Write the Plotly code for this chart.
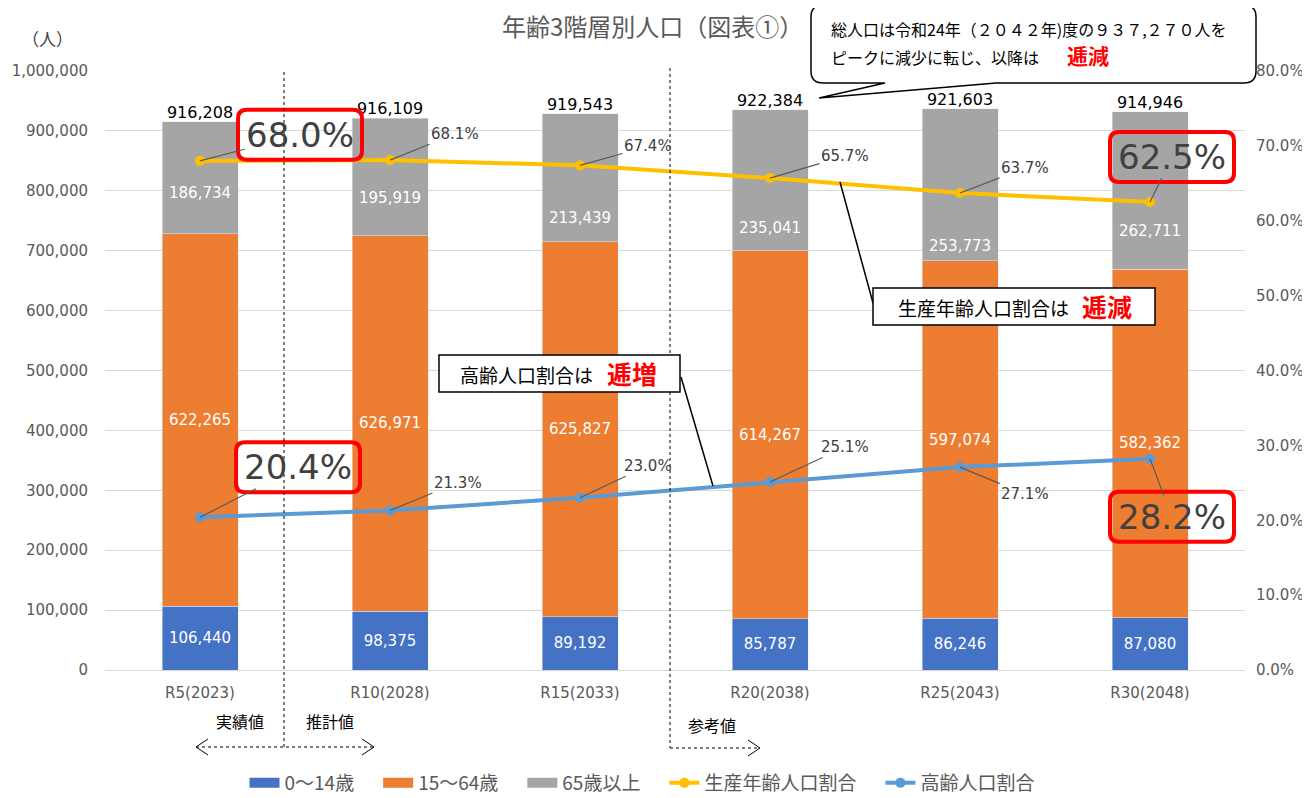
import plotly.graph_objects as go

# ---------------- data ----------------
categories = ["R5(2023)", "R10(2028)", "R15(2033)", "R20(2038)", "R25(2043)", "R30(2048)"]
age_0_14 = [106440, 98375, 89192, 85787, 86246, 87080]
age_15_64 = [622265, 626971, 625827, 614267, 597074, 582362]
age_65_plus = [186734, 195919, 213439, 235041, 253773, 262711]
total_labels = [916208, 916109, 919543, 922384, 921603, 914946]
working_ratio = [0.680, 0.681, 0.674, 0.657, 0.637, 0.625]
elderly_ratio = [0.204, 0.213, 0.230, 0.251, 0.271, 0.282]

# ---------------- layout geometry (page pixels of the reference) ----------------
OFF = 8                     # page body margin
PAGE_W, PAGE_H = 1310, 798
W, H = PAGE_W - OFF, PAGE_H - OFF
PLOT_L, PLOT_R, PLOT_T, PLOT_B = 105, 1245, 71, 670   # plot area in page pixels
L = PLOT_L - OFF
T = PLOT_T - OFF
R = W - (PLOT_R - OFF)
B = H - (PLOT_B - OFF)
PW, PH = PLOT_R - PLOT_L, PLOT_B - PLOT_T
Y2MAX = 0.8

FONT = "DejaVu Sans, Noto Sans CJK JP"
JP = "Noto Sans CJK JP"
GRAY_TXT = "#595959"
DARK_TXT = "#404040"
C_BLUE, C_ORANGE, C_GRAY = "#4472C4", "#ED7D31", "#A5A5A5"
C_YELLOW, C_LBLUE = "#FFC000", "#5B9BD5"
GAP = "\u2002\u2002"   # extra spacing between legend entries


def px(x):
    return (x - PLOT_L) / PW


def py(y):
    return (PLOT_B - y) / PH


def cx(i):
    return PLOT_L + (i + 0.5) * PW / len(categories)


def y2px(v):
    return PLOT_B - v / Y2MAX * PH


def rrect_path(x0, y0, x1, y1, r, tail=None):
    p = f"M {px(x0 + r)},{py(y0)} L {px(x1 - r)},{py(y0)} "
    p += f"Q {px(x1)},{py(y0)} {px(x1)},{py(y0 + r)} L {px(x1)},{py(y1 - r)} "
    p += f"Q {px(x1)},{py(y1)} {px(x1 - r)},{py(y1)} "
    if tail:
        (ta, tip, tb) = tail
        p += f"L {px(ta)},{py(y1)} L {px(tip[0])},{py(tip[1])} L {px(tb)},{py(y1)} "
    p += f"L {px(x0 + r)},{py(y1)} Q {px(x0)},{py(y1)} {px(x0)},{py(y1 - r)} "
    p += f"L {px(x0)},{py(y0 + r)} Q {px(x0)},{py(y0)} {px(x0 + r)},{py(y0)} Z"
    return p


def page_text(txt, x, y, size, color="black", xanchor="center", bold=False, family=JP):
    return dict(x=px(x), y=py(y), xref="paper", yref="paper",
                text=f"<b>{txt}</b>" if bold else txt, showarrow=False,
                xanchor=xanchor, yanchor="middle",
                font=dict(size=size, color=color, family=family))


fig = go.Figure()

for vals, name, col in ((age_0_14, "0～14歳", C_BLUE), (age_15_64, "15～64歳", C_ORANGE)):
    fig.add_trace(go.Bar(
        x=categories, y=vals, name=name, marker_color=col, showlegend=False,
        texttemplate="%{y:,}", textposition="inside", insidetextanchor="middle",
        textfont=dict(color="white", size=15), textangle=0, hoverinfo="skip"))
fig.add_trace(go.Bar(
    x=categories, y=age_65_plus, name="65歳以上", marker_color=C_GRAY, showlegend=False,
    textposition="none", hoverinfo="skip"))

stack_tops = [a + b + c for a, b, c in zip(age_0_14, age_15_64, age_65_plus)]
fig.add_trace(go.Scatter(
    x=categories, y=stack_tops, mode="text", text=[f"{v:,}" for v in total_labels],
    textposition="top center", textfont=dict(color="black", size=16),
    showlegend=False, hoverinfo="skip"))

# legend entries for the bar series (wide rectangular swatches as in the original)
for name, col in (("0～14歳", C_BLUE), ("15～64歳", C_ORANGE), ("65歳以上", C_GRAY)):
    fig.add_trace(go.Scatter(x=[None], y=[None], mode="lines", name=name + GAP,
                             line=dict(color=col, width=10), hoverinfo="skip"))

fig.add_trace(go.Scatter(
    x=categories, y=working_ratio, name="生産年齢人口割合" + GAP, yaxis="y2",
    mode="lines+markers", line=dict(color=C_YELLOW, width=4),
    marker=dict(size=10, color=C_YELLOW), hoverinfo="skip"))
fig.add_trace(go.Scatter(
    x=categories, y=elderly_ratio, name="高齢人口割合", yaxis="y2",
    mode="lines+markers", line=dict(color=C_LBLUE, width=4),
    marker=dict(size=10, color=C_LBLUE), hoverinfo="skip"))

annotations = []
shapes = []

# gray segment labels (moved off the line as in the original)
gray_shift = [-15, -21, -40, -48, -61, -41]
for i, c in enumerate(categories):
    mid = age_0_14[i] + age_15_64[i] + age_65_plus[i] / 2
    annotations.append(dict(x=c, y=mid, xref="x", yref="y", text=f"{age_65_plus[i]:,}",
                            showarrow=False, yshift=gray_shift[i],
                            xanchor="center", yanchor="middle",
                            font=dict(color="white", size=15)))

# percentage labels with leader lines
big = {("w", 0), ("w", 5), ("e", 0), ("e", 5)}
w_off = [(100, -26), (65, -26), (68, -19), (75, -22), (65, -25), (22, -45)]
e_off = [(98, -50), (68, -28), (68, -32), (75, -35), (65, 27), (22, 58)]
for key, ratios, offs in (("w", working_ratio, w_off), ("e", elderly_ratio, e_off)):
    for i, c in enumerate(categories):
        ax, ay = offs[i]
        isbig = (key, i) in big
        annotations.append(dict(
            x=c, y=ratios[i], xref="x", yref="y2", text=f"{ratios[i] * 100:.1f}%",
            showarrow=True, arrowhead=0, arrowwidth=1.2, arrowcolor="#595959",
            standoff=0, ax=ax, ay=ay,
            font=dict(size=34 if isbig else 15, color=DARK_TXT)))
        if isbig:
            bx, by = cx(i) + ax, y2px(ratios[i]) + ay
            shapes.append(dict(type="path", xref="paper", yref="paper",
                               path=rrect_path(bx - 62, by - 25, bx + 62, by + 25, 9),
                               line=dict(color="#FF0000", width=4), layer="above"))

# title and axis unit
annotations.append(page_text("年齢3階層別人口（図表①）", 652, 25, 24, GRAY_TXT))
annotations.append(page_text("（人）", 47, 38, 17, DARK_TXT))

# period markers
dash = dict(color="black", width=1, dash="3px,3px")
shapes.append(dict(type="line", xref="paper", yref="paper", x0=px(284), x1=px(284),
                   y0=py(72), y1=py(747), line=dash, layer="above"))
shapes.append(dict(type="line", xref="paper", yref="paper", x0=px(670), x1=px(670),
                   y0=py(68), y1=py(748), line=dash, layer="above"))
shapes.append(dict(type="line", xref="paper", yref="paper", x0=px(196), x1=px(374),
                   y0=py(747), y1=py(747), line=dash))
shapes.append(dict(type="line", xref="paper", yref="paper", x0=px(670), x1=px(760),
                   y0=py(748), y1=py(748), line=dash))
for (tipx, tipy, d) in ((196, 747, 1), (374, 747, -1), (760, 748, -1)):
    shapes.append(dict(type="path", xref="paper", yref="paper",
                       path=f"M {px(tipx + d * 12)},{py(tipy - 8)} L {px(tipx)},{py(tipy)} L {px(tipx + d * 12)},{py(tipy + 8)}",
                       line=dict(color="black", width=1)))
for txt, x, y in (("実績値", 240, 721), ("推計値", 330, 721), ("参考値", 712, 725)):
    annotations.append(page_text(txt, x, y, 16))

# top speech-bubble callout
shapes.append(dict(type="path", xref="paper", yref="paper",
                   path=rrect_path(811, 5, 1256, 83, 12, tail=(996, (819, 98), 885)),
                   line=dict(color="black", width=1.5), fillcolor="white", layer="above"))
annotations.append(page_text("総人口は令和24年（２０４２年)度の９３７,２７０人を", 829, 29, 16,
                             xanchor="left"))
annotations.append(page_text("ピークに減少に転じ、以降は", 829, 57, 16, xanchor="left"))
annotations.append(page_text("逓減", 1088, 55, 21, "#FF0000", bold=True))

# box: working-age ratio
shapes.append(dict(type="line", xref="paper", yref="paper", x0=px(840), y0=py(182),
                   x1=px(873), y1=py(303), line=dict(color="black", width=1.5), layer="above"))
shapes.append(dict(type="rect", xref="paper", yref="paper", x0=px(873), x1=px(1155),
                   y0=py(288), y1=py(325), line=dict(color="black", width=1.5),
                   fillcolor="white", layer="above"))
annotations.append(page_text("生産年齢人口割合は", 983, 307, 19))
annotations.append(page_text("逓減", 1107, 306, 25, "#FF0000", bold=True))

# box: elderly ratio
shapes.append(dict(type="line", xref="paper", yref="paper", x0=px(681), y0=py(377),
                   x1=px(713), y1=py(486), line=dict(color="black", width=1.5), layer="above"))
shapes.append(dict(type="rect", xref="paper", yref="paper", x0=px(439), x1=px(680),
                   y0=py(355), y1=py(392), line=dict(color="black", width=1.5),
                   fillcolor="white", layer="above"))
annotations.append(page_text("高齢人口割合は", 526, 374, 19))
annotations.append(page_text("逓増", 632, 373, 25, "#FF0000", bold=True))

fig.update_layout(
    width=W, height=H, autosize=False,
    margin=dict(l=L, r=R, t=T, b=B, pad=0),
    paper_bgcolor="white", plot_bgcolor="white",
    font=dict(family=FONT, color=GRAY_TXT),
    barmode="stack", bargap=0.6,
    showlegend=True,
    legend=dict(orientation="h", xref="container", yref="container", traceorder="normal",
                x=(642 - OFF) / W, xanchor="center", y=(PAGE_H - 783) / H, yanchor="middle",
                font=dict(size=19, color=GRAY_TXT, family=JP),
                itemwidth=30, bgcolor="rgba(0,0,0,0)"),
    xaxis=dict(type="category", range=[-0.5, 5.5], showgrid=False, showline=False,
               ticks="", tickfont=dict(size=15, color=GRAY_TXT), ticklabelstandoff=12,
               automargin=False),
    yaxis=dict(range=[0, 1000000], dtick=100000, tickformat=",", showgrid=True,
               gridcolor="#D9D9D9", gridwidth=1, zeroline=True, zerolinecolor="#D9D9D9",
               zerolinewidth=1, showline=False, ticks="", automargin=False,
               tickfont=dict(size=15, color=GRAY_TXT), ticklabelstandoff=16),
    yaxis2=dict(range=[0, Y2MAX], dtick=0.1, tickformat=".1%", overlaying="y", side="right",
                showgrid=False, zeroline=False, showline=False, ticks="", automargin=False,
                tickfont=dict(size=15, color=GRAY_TXT), ticklabelstandoff=10),
    annotations=annotations,
    shapes=shapes,
    hovermode=False,
)

fig.write_html("out.html")
